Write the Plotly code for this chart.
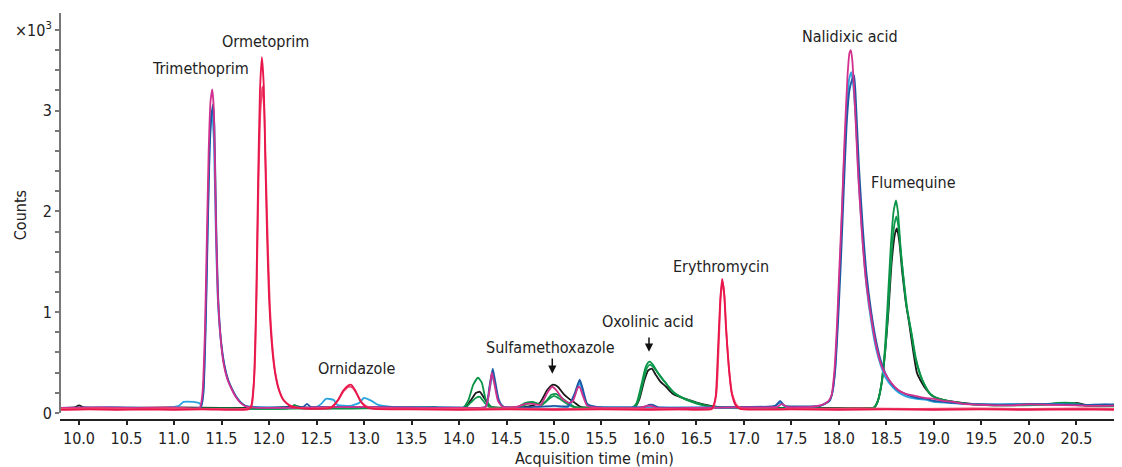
import plotly.graph_objects as go

# ---------------- data (time in min, counts x10^3) ----------------
RED_A = [(9.8,0.03),(10.1,0.035),(10.4,0.03),(10.7,0.035),(11.0,0.03),(11.3,0.035),(11.6,0.03),(11.78,0.035),
         (11.81,0.06),(11.84,0.3),(11.865,1.1),(11.885,2.3),(11.905,3.2),(11.925,3.53),(11.945,3.25),(11.96,2.55),
         (11.98,1.75),(12.0,1.15),(12.03,0.68),(12.06,0.42),(12.1,0.24),(12.15,0.13),(12.22,0.07),(12.3,0.05),
         (12.5,0.04),(12.65,0.05),(12.72,0.12),(12.78,0.22),(12.83,0.27),(12.865,0.28),(12.91,0.22),(12.96,0.12),
         (13.02,0.06),(13.1,0.04),(13.5,0.035),(14.0,0.03),(14.5,0.035),(15.0,0.03),(15.5,0.035),(16.0,0.03),
         (16.4,0.035),(16.66,0.04),(16.7,0.15),(16.725,0.6),(16.75,1.12),(16.77,1.33),(16.79,1.2),(16.81,0.85),
         (16.84,0.45),(16.87,0.2),(16.91,0.08),(16.96,0.04),(17.5,0.035),(18.0,0.03),(18.5,0.035),(19.0,0.03),
         (19.5,0.035),(20.0,0.03),(20.5,0.035),(20.96,0.03)]
RED_B = [(9.8,0.04),(10.2,0.045),(10.6,0.04),(11.0,0.045),(11.4,0.04),(11.79,0.045),(11.82,0.08),(11.85,0.45),
         (11.87,1.2),(11.89,2.3),(11.91,3.0),(11.93,3.24),(11.95,3.0),(11.97,2.3),(11.99,1.6),(12.01,1.05),
         (12.04,0.62),(12.07,0.38),(12.11,0.22),(12.16,0.12),(12.23,0.07),(12.32,0.05),(12.5,0.045),(12.66,0.06),
         (12.73,0.13),(12.79,0.22),(12.84,0.26),(12.88,0.25),(12.93,0.18),(12.98,0.1),(13.05,0.055),(13.2,0.045),
         (13.8,0.04),(14.4,0.045),(15.0,0.04),(15.6,0.045),(16.2,0.04),(16.67,0.045),(16.71,0.2),(16.735,0.7),
         (16.755,1.15),(16.775,1.3),(16.795,1.15),(16.815,0.8),(16.845,0.42),(16.875,0.19),(16.92,0.08),
         (16.97,0.045),(17.6,0.04),(18.2,0.045),(18.8,0.04),(19.4,0.045),(20.0,0.04),(20.6,0.045),(20.96,0.04)]
MAGENTA = [(9.8,0.05),(10.2,0.055),(10.6,0.05),(11.0,0.055),(11.27,0.05),(11.3,0.2),(11.325,0.8),(11.345,1.7),
           (11.365,2.6),(11.385,3.1),(11.403,3.21),(11.42,3.0),(11.44,1.95),(11.46,1.2),(11.49,0.75),(11.52,0.5),
           (11.56,0.34),(11.6,0.25),(11.65,0.16),(11.7,0.1),(11.77,0.06),(12.0,0.05),(12.5,0.055),(13.0,0.06),
           (13.2,0.055),(13.6,0.05),(14.0,0.05),(14.28,0.06),(14.32,0.22),(14.345,0.4),(14.37,0.3),(14.41,0.12),
           (14.46,0.06),(14.6,0.06),(14.7,0.09),(14.78,0.09),(14.86,0.08),(14.93,0.2),(14.98,0.26),(15.03,0.22),
           (15.09,0.14),(15.16,0.1),(15.2,0.12),(15.25,0.25),(15.27,0.26),(15.3,0.18),(15.35,0.07),(15.5,0.05),
           (15.9,0.05),(15.98,0.07),(16.02,0.07),(16.08,0.05),(16.5,0.05),(17.0,0.055),(17.35,0.06),(17.4,0.09),
           (17.45,0.06),(17.7,0.06),(17.82,0.08),(17.88,0.11),(17.92,0.17),(17.95,0.4),(17.98,0.9),(18.0,1.35),
           (18.03,2.0),(18.06,2.75),(18.09,3.35),(18.11,3.57),(18.125,3.6),(18.14,3.5),(18.17,3.0),(18.2,2.4),
           (18.24,1.8),(18.28,1.35),(18.33,1.0),(18.38,0.72),(18.43,0.52),(18.48,0.4),(18.55,0.3),(18.62,0.23),
           (18.7,0.19),(18.8,0.17),(18.9,0.15),(19.0,0.14),(19.1,0.12),(19.2,0.11),(19.3,0.09),(19.5,0.08),
           (19.8,0.075),(20.0,0.085),(20.2,0.08),(20.5,0.075),(20.7,0.07),(20.96,0.075)]
BLUE = [(9.8,0.05),(10.3,0.055),(10.8,0.05),(11.28,0.055),(11.31,0.2),(11.335,0.9),(11.355,1.8),(11.375,2.6),
        (11.395,2.95),(11.41,3.06),(11.425,2.85),(11.445,1.85),(11.465,1.15),(11.495,0.72),(11.53,0.48),
        (11.57,0.33),(11.61,0.24),(11.66,0.15),(11.72,0.09),(11.78,0.06),(12.2,0.055),(12.36,0.06),(12.4,0.09),
        (12.44,0.06),(12.6,0.06),(13.0,0.06),(13.5,0.055),(14.0,0.055),(14.28,0.06),(14.32,0.26),(14.355,0.44),
        (14.38,0.32),(14.42,0.13),(14.47,0.06),(14.8,0.06),(15.0,0.07),(15.15,0.07),(15.22,0.2),(15.27,0.33),
        (15.3,0.25),(15.35,0.09),(15.45,0.06),(15.95,0.06),(16.0,0.08),(16.04,0.08),(16.1,0.055),(17.0,0.06),
        (17.33,0.07),(17.38,0.12),(17.43,0.07),(17.6,0.065),(17.8,0.07),(17.9,0.12),(17.93,0.2),(17.96,0.42),
        (17.99,0.9),(18.02,1.5),(18.05,2.2),(18.08,2.85),(18.11,3.2),(18.135,3.3),(18.16,3.35),(18.18,3.05),
        (18.21,2.45),(18.25,1.85),(18.29,1.38),(18.34,1.0),(18.39,0.72),(18.44,0.52),(18.49,0.39),(18.56,0.28),
        (18.63,0.22),(18.72,0.18),(18.82,0.15),(18.92,0.14),(19.0,0.12),(19.1,0.11),(19.2,0.1),(19.35,0.09),
        (19.5,0.085),(19.8,0.08),(20.0,0.09),(20.3,0.085),(20.6,0.08),(20.8,0.085),(20.96,0.08)]
CYAN = [(9.8,0.05),(10.4,0.055),(10.9,0.05),(11.05,0.07),(11.1,0.11),(11.2,0.11),(11.26,0.1),(11.29,0.08),
        (11.31,0.25),(11.335,1.0),(11.355,1.9),(11.375,2.65),(11.39,2.95),(11.4,3.0),(11.42,2.7),(11.44,1.8),
        (11.46,1.15),(11.49,0.74),(11.53,0.47),(11.57,0.32),(11.62,0.22),(11.68,0.13),(11.75,0.07),(12.0,0.055),
        (12.5,0.06),(12.55,0.09),(12.6,0.14),(12.68,0.13),(12.72,0.08),(12.85,0.07),(12.95,0.1),(13.0,0.15),
        (13.08,0.12),(13.15,0.08),(13.3,0.06),(13.8,0.055),(14.28,0.06),(14.32,0.22),(14.355,0.38),(14.38,0.28),
        (14.42,0.11),(14.47,0.06),(15.15,0.06),(15.22,0.18),(15.27,0.3),(15.3,0.22),(15.35,0.08),(15.45,0.06),
        (16.5,0.055),(17.3,0.06),(17.38,0.1),(17.44,0.06),(17.8,0.07),(17.9,0.12),(17.93,0.2),(17.96,0.45),
        (17.99,1.0),(18.02,1.7),(18.05,2.45),(18.08,3.0),(18.105,3.3),(18.13,3.38),(18.15,3.25),(18.18,2.85),
        (18.21,2.25),(18.25,1.7),(18.29,1.25),(18.34,0.9),(18.39,0.64),(18.44,0.47),(18.49,0.35),(18.56,0.26),
        (18.63,0.2),(18.72,0.16),(18.82,0.14),(18.92,0.13),(19.0,0.11),(19.15,0.1),(19.3,0.09),(19.5,0.085),
        (19.8,0.09),(20.0,0.085),(20.3,0.09),(20.6,0.08),(20.96,0.085)]
GREEN_A = [(9.8,0.04),(10.4,0.045),(11.0,0.04),(11.6,0.045),(12.2,0.045),(12.27,0.08),(12.32,0.05),(13.0,0.045),
           (13.5,0.05),(13.75,0.06),(13.8,0.045),(14.04,0.05),(14.1,0.13),(14.15,0.28),(14.2,0.35),(14.24,0.3),
           (14.28,0.14),(14.34,0.06),(14.5,0.05),(14.62,0.06),(14.7,0.1),(14.78,0.11),(14.86,0.08),(14.92,0.12),
           (14.97,0.18),(15.02,0.19),(15.08,0.15),(15.15,0.1),(15.22,0.06),(15.5,0.05),(15.82,0.05),(15.87,0.1),
           (15.92,0.28),(15.96,0.44),(15.99,0.5),(16.01,0.51),(16.04,0.48),(16.08,0.42),(16.12,0.36),(16.18,0.29),
           (16.25,0.21),(16.35,0.15),(16.45,0.11),(16.55,0.08),(16.65,0.06),(16.8,0.05),(17.5,0.045),(18.0,0.045),
           (18.36,0.05),(18.4,0.1),(18.44,0.25),(18.48,0.6),(18.51,1.05),(18.545,1.65),(18.575,2.0),(18.6,2.11),
           (18.62,2.0),(18.65,1.62),(18.68,1.32),(18.71,1.06),(18.76,0.8),(18.8,0.56),(18.85,0.39),(18.89,0.3),
           (18.95,0.2),(19.0,0.16),(19.1,0.13),(19.2,0.11),(19.35,0.09),(19.5,0.08),(19.8,0.075),(20.1,0.08),
           (20.3,0.1),(20.5,0.095),(20.6,0.07),(20.96,0.065)]
GREEN_B = [(9.8,0.045),(10.5,0.04),(11.2,0.045),(12.0,0.04),(12.6,0.045),(13.4,0.05),(14.06,0.05),(14.12,0.1),
           (14.18,0.15),(14.22,0.16),(14.27,0.1),(14.33,0.055),(14.65,0.06),(14.72,0.09),(14.8,0.1),(14.87,0.08),
           (14.95,0.14),(15.0,0.17),(15.06,0.14),(15.14,0.09),(15.22,0.055),(15.84,0.05),(15.89,0.13),(15.94,0.32),
           (15.98,0.45),(16.01,0.48),(16.05,0.45),(16.1,0.39),(16.15,0.33),(16.2,0.27),(16.28,0.19),(16.38,0.14),
           (16.5,0.1),(16.62,0.07),(16.8,0.05),(17.6,0.045),(18.37,0.05),(18.41,0.12),(18.45,0.3),(18.49,0.65),
           (18.52,1.05),(18.555,1.6),(18.585,1.88),(18.605,1.95),(18.625,1.85),(18.655,1.55),(18.69,1.25),
           (18.72,1.02),(18.77,0.76),(18.81,0.54),(18.86,0.37),(18.9,0.28),(18.96,0.19),(19.05,0.14),(19.2,0.11),
           (19.4,0.085),(19.7,0.075),(20.0,0.08),(20.3,0.085),(20.6,0.075),(20.96,0.07)]
BLACK = [(9.8,0.05),(9.95,0.055),(10.0,0.075),(10.05,0.055),(10.5,0.05),(11.0,0.055),(11.5,0.05),(12.0,0.05),
         (12.2,0.06),(12.28,0.07),(12.35,0.055),(13.0,0.05),(13.5,0.055),(14.06,0.05),(14.12,0.12),(14.18,0.2),
         (14.22,0.21),(14.27,0.14),(14.33,0.06),(14.7,0.06),(14.85,0.1),(14.93,0.23),(14.99,0.28),(15.04,0.26),
         (15.1,0.19),(15.16,0.14),(15.22,0.1),(15.28,0.06),(15.6,0.05),(15.85,0.055),(15.9,0.14),(15.95,0.32),
         (15.99,0.42),(16.03,0.44),(16.07,0.38),(16.12,0.31),(16.18,0.26),(16.25,0.19),(16.35,0.15),(16.45,0.12),
         (16.55,0.09),(16.65,0.07),(16.8,0.055),(17.5,0.05),(18.0,0.05),(18.37,0.055),(18.41,0.12),(18.45,0.3),
         (18.49,0.65),(18.52,1.0),(18.555,1.5),(18.59,1.78),(18.61,1.83),(18.635,1.7),(18.665,1.4),(18.7,1.12),
         (18.74,0.88),(18.78,0.62),(18.82,0.4),(18.86,0.32),(18.92,0.23),(18.98,0.17),(19.05,0.14),(19.15,0.12),
         (19.3,0.1),(19.5,0.085),(19.8,0.08),(20.1,0.085),(20.4,0.09),(20.5,0.1),(20.6,0.08),(20.96,0.075)]

SERIES = [("black", BLACK, "#1a1a1a"), ("green B", GREEN_B, "#0f9a4e"), ("green A", GREEN_A, "#0a9447"),
          ("cyan", CYAN, "#2aa4de"), ("blue", BLUE, "#1c58a4"), ("magenta", MAGENTA, "#d2308e"),
          ("red B", RED_B, "#f0466c"), ("red A", RED_A, "#e8164a")]

PEAK_LABELS = [("Trimethoprim", 11.274, 3.42), ("Ormetoprim", 11.968, 3.69), ("Ornidazole", 12.916, 0.437),
               ("Sulfamethoxazole", 14.968, 0.652), ("Oxolinic acid", 15.989, 0.908),
               ("Erythromycin", 16.758, 1.453), ("Nalidixic acid", 18.116, 3.735), ("Flumequine", 18.779, 2.282)]
ARROWS = [(14.982, 0.556, 0.39), (16.0, 0.764, 0.607)]  # x, from y, to y

X_TICKS = [10.0 + 0.5 * i for i in range(22)]
Y_TICKS = [round(0.2 * i, 1) for i in range(20)]
Y_TICK_TEXT = {0.0: "0", 1.0: "1", 2.0: "2", 3.0: "3", 3.8: "×10<sup>3</sup>"}

FONT = "DejaVu Sans Condensed, DejaVu Sans, sans-serif"
TXT = "#222"

fig = go.Figure()
for name, pts, color in SERIES:
    fig.add_trace(go.Scatter(x=[p[0] for p in pts], y=[p[1] for p in pts], mode="lines", name=name,
                             line=dict(color=color, width=1.8, shape="spline", smoothing=0.5),
                             showlegend=False, hoverinfo="skip"))

annotations = []
for text, x, y in PEAK_LABELS:
    annotations.append(dict(x=x, y=y, xref="x", yref="y", text=text, showarrow=False,
                            font=dict(family=FONT, size=16, color=TXT), xanchor="center", yanchor="middle"))
for x, y0, y1 in ARROWS:
    annotations.append(dict(x=x, y=y1, ax=x, ay=y0, xref="x", yref="y", axref="x", ayref="y", text="",
                            showarrow=True, arrowhead=2, arrowsize=1.1, arrowwidth=1.5, arrowcolor="#111"))
annotations.append(dict(x=0.5047, y=-0.097, xref="paper", yref="paper", text="Acquisition time (min)",
                        showarrow=False, font=dict(family=FONT, size=16, color=TXT),
                        xanchor="center", yanchor="middle"))
annotations.append(dict(x=-0.0377, y=0.502, xref="paper", yref="paper", text="Counts", textangle=-90,
                        showarrow=False, font=dict(family=FONT, size=16, color=TXT),
                        xanchor="center", yanchor="middle"))

# the page body adds an 8 px offset, so the figure is 8 px smaller and margins are reduced by 8 px
fig.update_layout(
    width=1114, height=459, margin=dict(l=52, r=2, t=5, b=48),
    paper_bgcolor="white", plot_bgcolor="white",
    font=dict(family=FONT, size=16, color=TXT),
    xaxis=dict(range=[9.8, 20.958], tickvals=X_TICKS, ticktext=[f"{v:.1f}" for v in X_TICKS],
               ticks="outside", ticklen=4, tickcolor="#222", tickwidth=1.5, showline=True,
               linecolor="#222", linewidth=2, showgrid=False, zeroline=False,
               tickfont=dict(family=FONT, size=16, color=TXT)),
    yaxis=dict(range=[-0.06, 3.968], tickvals=Y_TICKS, ticktext=[Y_TICK_TEXT.get(v, "") for v in Y_TICKS],
               ticks="outside", ticklen=4, tickcolor="#777", tickwidth=1.5, showline=False,
               showgrid=False, zeroline=False, tickfont=dict(family=FONT, size=16, color=TXT)),
    annotations=annotations,
    shapes=[dict(type="line", xref="paper", yref="y", x0=0, x1=0, y0=0, y1=3.968,
                 line=dict(color="#777", width=2))],
)

fig.write_html("out.html")
